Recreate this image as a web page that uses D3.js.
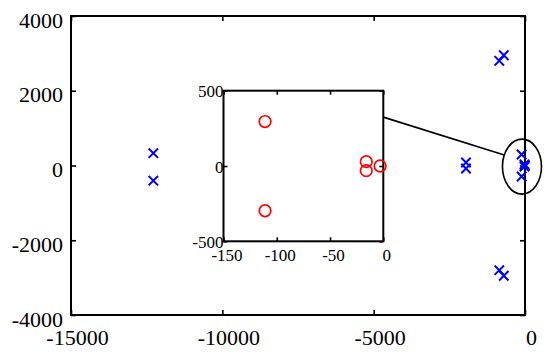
<!DOCTYPE html>
<html>
<head>
<meta charset="utf-8">
<script src="https://cdn.jsdelivr.net/npm/d3@7"></script>
<style>
  body { margin: 0; background: #fff; }
  svg { display: block; }
</style>
</head>
<body>
<svg id="chart" width="550" height="356"></svg>
<script>
// poles (blue crosses), main view
const poleRe = [-12280, -12280, -1950, -1950, -850, -700, -850, -700, -111, -111, -16, -16, -3];
const poleIm = [330, -405, 80, -80, 2800, 2950, -2800, -2950, 295, -295, 30, -30, 0];

// zoomed view (red circles)
const zeroRe = [-111, -111, -16, -16, -3];
const zeroIm = [295, -297, 29, -31, 0];

const xTicks = [-15000, -10000, -5000, 0];
const yTicks = [-4000, -2000, 0, 2000, 4000];
const xTicksIn = [-150, -100, -50, 0];
const yTicksIn = [-500, 0, 500];

const font = '"Liberation Serif", "DejaVu Serif", serif';
const fmt = (d) => String(d);

let svg = d3.select('#chart');

let x = d3.scaleLinear().domain([-15000, 0]).range([71, 525]);
let y = d3.scaleLinear().domain([-4000, 4000]).range([315, 16]);

let xIn = d3.scaleLinear().domain([-150, 0]).range([223.5, 383.3]);
let yIn = d3.scaleLinear().domain([-500, 500]).range([241.3, 90.7]);

function boxAxes(g, xs, ys, xt, yt, opt) {
  let [x0, x1] = xs.range();
  let [y0, y1] = ys.range();

  let bottom = g.append('g')
    .attr('transform', `translate(0,${y0})`)
    .call(d3.axisBottom(xs).tickValues(xt).tickSize(-opt.tick).tickFormat(fmt));
  bottom.selectAll('text')
    .attr('y', opt.xBase).attr('dy', null).attr('dx', opt.xdx);

  g.append('g')
    .attr('transform', `translate(0,${y1})`)
    .call(d3.axisTop(xs).tickValues(xt).tickSize(-opt.tick))
    .selectAll('text').remove();

  let left = g.append('g')
    .attr('transform', `translate(${x0},0)`)
    .call(d3.axisLeft(ys).tickValues(yt).tickSize(-opt.tick).tickFormat(fmt));
  left.selectAll('text')
    .attr('x', -opt.yPad).attr('dy', null).attr('y', opt.yBase);

  g.append('g')
    .attr('transform', `translate(${x1},0)`)
    .call(d3.axisRight(ys).tickValues(yt).tickSize(-opt.tick))
    .selectAll('text').remove();

  g.selectAll('.domain').remove();
  g.selectAll('.tick line').attr('stroke', '#000').attr('stroke-width', 1.6);
  g.selectAll('g').attr('font-family', font).attr('font-size', opt.fs);
  g.selectAll('.tick text').attr('fill', '#000');

  g.append('rect')
    .attr('x', x0).attr('y', y1)
    .attr('width', x1 - x0).attr('height', y0 - y1)
    .attr('fill', 'none').attr('stroke', '#000').attr('stroke-width', 2);
}

function crosses(g, data, xs, ys, s) {
  g.selectAll('path.pole')
    .data(data)
    .join('path')
    .attr('class', 'pole')
    .attr('d', d => {
      let cx = xs(d[0]), cy = ys(d[1]);
      return `M${cx - s},${cy - s}L${cx + s},${cy + s}M${cx - s},${cy + s}L${cx + s},${cy - s}`;
    })
    .attr('stroke', '#0000ff')
    .attr('stroke-width', 2)
    .attr('fill', 'none');
}

// main plot
let main = svg.append('g');
boxAxes(main, x, y, xTicks, yTicks, { tick: 5, fs: 22, xBase: 30, xdx: 6, yPad: 8, yBase: 11 });

let poles = poleRe.map((d, i) => [d, poleIm[i]]);
crosses(main.append('g'), poles, x, y, 4.7);

// highlight ellipse around the poles near the origin
let ellC = [-100, -30], ellR = [645, 735];
let ex = x(ellC[0]), ey = y(ellC[1]);
let rx = x(ellC[0] + ellR[0]) - ex, ry = ey - y(ellC[1] + ellR[1]);
main.append('ellipse')
  .attr('cx', ex).attr('cy', ey).attr('rx', rx).attr('ry', ry)
  .attr('fill', 'none').attr('stroke', '#000').attr('stroke-width', 1.6);

// connector from inset to ellipse
let t = 205 * Math.PI / 180;
main.append('line')
  .attr('x1', xIn(0)).attr('y1', yIn(325))
  .attr('x2', ex + rx * Math.cos(t)).attr('y2', ey + ry * Math.sin(t))
  .attr('stroke', '#000').attr('stroke-width', 1.8);

// inset
let inset = svg.append('g');
inset.append('rect')
  .attr('x', xIn.range()[0]).attr('y', yIn.range()[1])
  .attr('width', xIn.range()[1] - xIn.range()[0])
  .attr('height', yIn.range()[0] - yIn.range()[1])
  .attr('fill', '#fff');
boxAxes(inset, xIn, yIn, xTicksIn, yTicksIn, { tick: 4, fs: 17, xBase: 20, xdx: 3, yPad: 0, yBase: 6 });

inset.append('g')
  .selectAll('circle')
  .data(zeroRe.map((d, i) => [d, zeroIm[i]]))
  .join('circle')
  .attr('cx', d => xIn(d[0]))
  .attr('cy', d => yIn(d[1]))
  .attr('r', 5.8)
  .attr('fill', 'none')
  .attr('stroke', '#ff0000')
  .attr('stroke-width', 1.7);
</script>
</body>
</html>
